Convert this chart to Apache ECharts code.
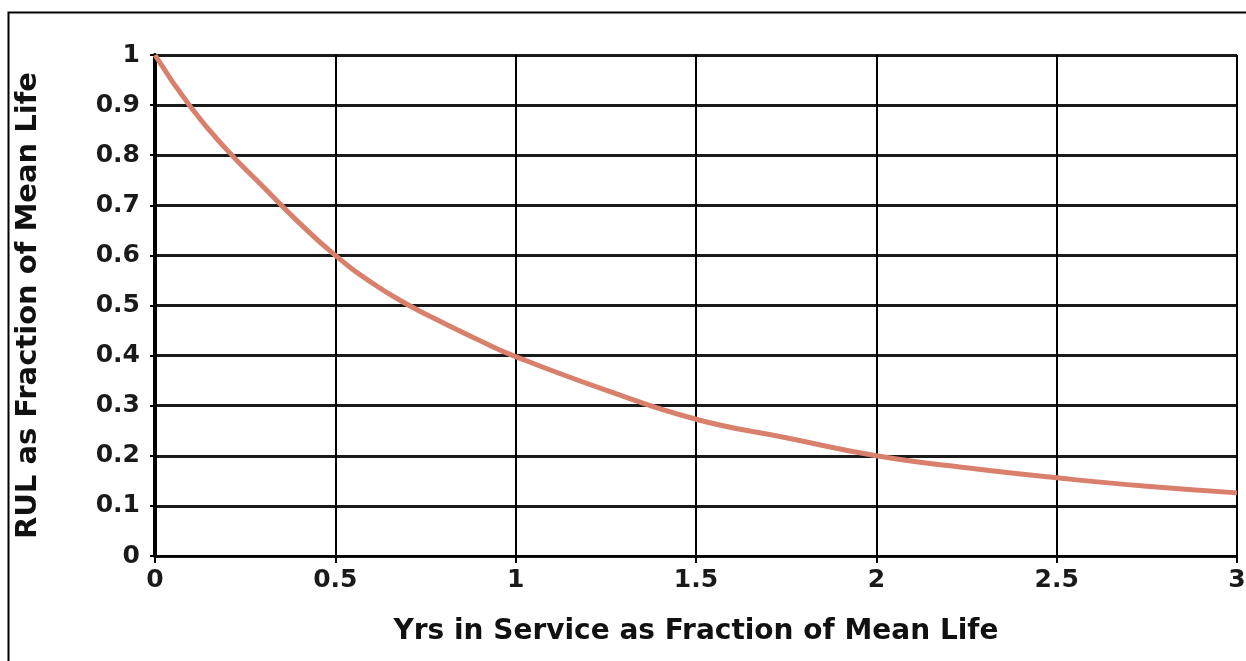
<!DOCTYPE html>
<html>
<head>
<meta charset="utf-8">
<script src="https://cdn.jsdelivr.net/npm/echarts@6/dist/echarts.min.js"></script>
<style>
html,body{margin:0;padding:0;background:#fff;}
#chart{width:1246px;height:661px;}
</style>
</head>
<body>
<div id="chart"></div>
<script>
const xValues = [0, 0.1, 0.2, 0.3, 0.4, 0.5, 0.6, 0.7, 0.8, 0.9, 1.0, 1.25, 1.5, 1.75, 2.0, 2.25, 2.5, 2.75, 3.0];
const rulValues = [1.0, 0.895, 0.81, 0.737, 0.665, 0.6, 0.546, 0.502, 0.465, 0.43, 0.398, 0.331, 0.273, 0.236, 0.2, 0.176, 0.156, 0.139, 0.126];
const xAxisTitle = 'Yrs in Service as Fraction of Mean Life';
const yAxisTitle = 'RUL as Fraction of Mean Life';

const chart = echarts.init(document.getElementById('chart'));
const font = '"DejaVu Sans", sans-serif';
chart.setOption({
  backgroundColor: '#fff',
  animation: false,
  graphic: [{
    type: 'rect', left: 6, top: 10,
    shape: {width: 1260, height: 700},
    style: {fill: 'none', stroke: '#000', lineWidth: 2}
  }],
  grid: {left: 155, right: 9, top: 55, bottom: 105, outerBoundsMode: 'none', containLabel: false},
  xAxis: {
    type: 'value', min: 0, max: 3, interval: 0.5,
    name: xAxisTitle, nameLocation: 'middle', nameGap: 62,
    nameTextStyle: {fontFamily: font, fontWeight: 'bold', fontSize: 28, color: '#111'},
    axisLine: {show: true, onZero: false, lineStyle: {color: '#000', width: 2}},
    axisTick: {show: true, length: 7, lineStyle: {color: '#000', width: 2}},
    axisLabel: {fontFamily: font, fontWeight: 'bold', fontSize: 25, color: '#1a1a1a', margin: 12},
    splitLine: {show: true, lineStyle: {color: '#000', width: 2}}
  },
  yAxis: {
    type: 'value', min: 0, max: 1, interval: 0.1,
    name: yAxisTitle, nameLocation: 'middle', nameGap: 112,
    nameTextStyle: {fontFamily: font, fontWeight: 'bold', fontSize: 29, color: '#111'},
    axisLine: {show: true, onZero: false, lineStyle: {color: '#000', width: 4}},
    axisTick: {show: true, length: 5, lineStyle: {color: '#000', width: 2}},
    axisLabel: {fontFamily: font, fontWeight: 'bold', fontSize: 25, color: '#1a1a1a', margin: 15,
      formatter: v => String(Math.round(v * 10) / 10)},
    splitLine: {show: true, lineStyle: {color: '#1a1a1a', width: 3}}
  },
  series: [{
    type: 'line',
    data: xValues.map((x, i) => [x, rulValues[i]]),
    smooth: true,
    showSymbol: false,
    lineStyle: {color: '#d9806c', width: 5},
    z: 5
  }]
});
</script>
</body>
</html>
